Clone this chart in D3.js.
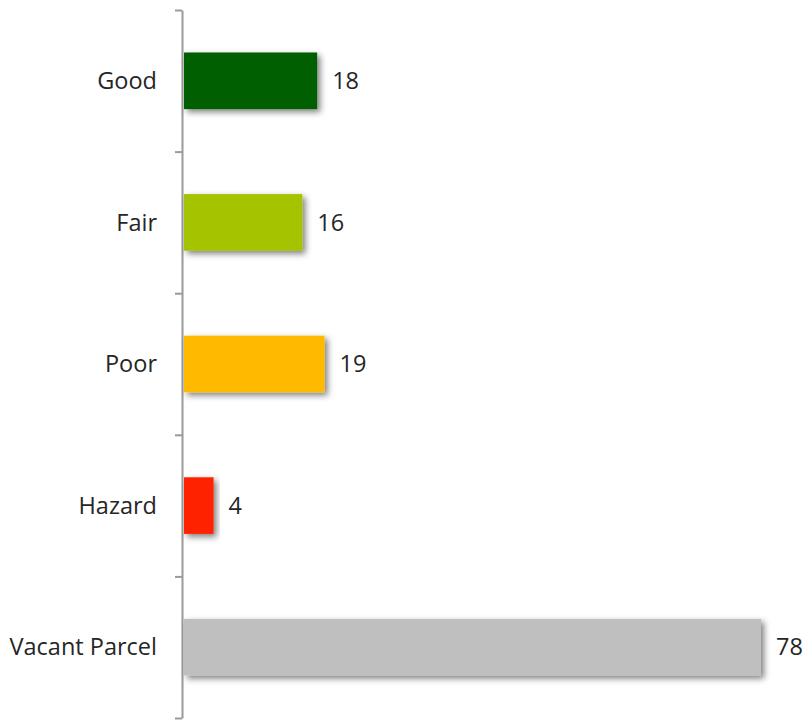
<!DOCTYPE html>
<html>
<head>
<meta charset="utf-8">
<script src="https://cdn.jsdelivr.net/npm/d3@7"></script>
<style>
  body { margin: 0; background: #fff; }
  text { font-family: "Open Sans", sans-serif; }
</style>
</head>
<body>
<svg id="chart"></svg>
<script>
const categories = ['Good', 'Fair', 'Poor', 'Hazard', 'Vacant Parcel'];
const counts = [18, 16, 19, 4, 78];
const barColors = ['#005E00', '#A6C300', '#FFBA00', '#FF2400', '#BFBFBF'];

const width = 806, height = 720;
const svg = d3.select('#chart')
  .attr('width', width)
  .attr('height', height);

const defs = svg.append('defs');
const shadow = defs.append('filter')
  .attr('id', 'shadow')
  .attr('x', '-10%').attr('y', '-20%')
  .attr('width', '130%').attr('height', '150%');
shadow.append('feDropShadow')
  .attr('dx', 3).attr('dy', 3)
  .attr('stdDeviation', 3)
  .attr('flood-color', '#000')
  .attr('flood-opacity', 0.5);

const axisX = 182;
const x = d3.scaleLinear().domain([0, 78]).range([axisX + 2, 761]);
const y = d3.scaleBand().domain(categories).range([10, 718])
  .paddingInner(0.6).paddingOuter(0.3);

// axis line with ticks at band boundaries
const yEdge = d3.scaleLinear().domain([0, categories.length]).range([10, 718]);
const axis = svg.append('g')
  .attr('transform', `translate(${axisX},0)`)
  .call(d3.axisLeft(yEdge).tickValues(d3.range(categories.length + 1)).tickSize(7).tickSizeOuter(0).tickFormat(''));
axis.selectAll('path, line').attr('stroke', '#9a9a9a').attr('stroke-width', 2);

svg.append('g').selectAll('rect')
  .data(counts)
  .enter()
  .append('rect')
  .attr('x', x(0))
  .attr('y', (d, i) => y(categories[i]))
  .attr('width', d => x(d) - x(0))
  .attr('height', y.bandwidth())
  .attr('fill', (d, i) => barColors[i])
  .attr('filter', 'url(#shadow)');

svg.append('g').selectAll('text')
  .data(counts)
  .enter()
  .append('text')
  .attr('x', d => x(d) + 15)
  .attr('y', (d, i) => y(categories[i]) + y.bandwidth() / 2)
  .attr('dy', '0.35em')
  .attr('font-size', 23.5)
  .attr('fill', '#262626')
  .text(d => d);

svg.append('g').selectAll('text')
  .data(categories)
  .enter()
  .append('text')
  .attr('x', 157)
  .attr('y', d => y(d) + y.bandwidth() / 2)
  .attr('dy', '0.35em')
  .attr('text-anchor', 'end')
  .attr('font-size', 23.5)
  .attr('fill', '#262626')
  .text(d => d);
</script>
</body>
</html>
